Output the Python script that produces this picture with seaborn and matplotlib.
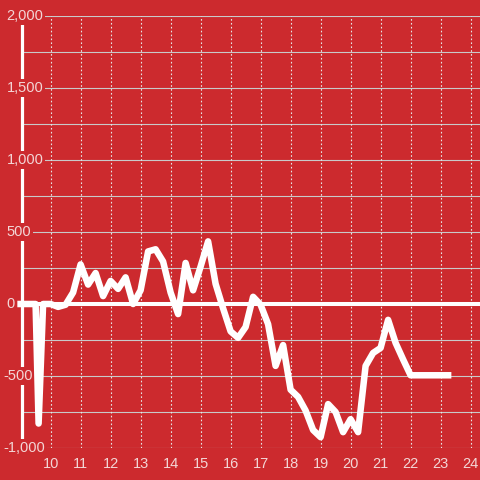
import matplotlib

matplotlib.use("Agg")

import matplotlib.pyplot as plt
import matplotlib.transforms as mtransforms
import pandas as pd
import seaborn as sns

# hours of the day and the value at each reading
hours = [
    9.0, 9.25, 9.5, 9.6, 9.75, 10.0, 10.25, 10.5, 10.75, 11.0, 11.25, 11.5,
    11.75, 12.0, 12.25, 12.5, 12.75, 13.0, 13.25, 13.5, 13.75, 14.0, 14.25,
    14.5, 14.75, 15.0, 15.25, 15.5, 15.75, 16.0, 16.25, 16.5, 16.75, 17.0,
    17.25, 17.5, 17.75, 18.0, 18.25, 18.5, 18.75, 19.0, 19.25, 19.5, 19.75,
    20.0, 20.25, 20.5, 20.75, 21.0, 21.25, 21.5, 21.75, 22.0, 22.25, 22.5,
    22.75, 23.0, 23.25,
]
values = [
    0, 0, 0, -830, 0, 0, -20, -5, 80, 275, 135, 215,
    55, 160, 105, 185, 0, 95, 365, 380, 295, 80, -70,
    285, 95, 260, 435, 140, -30, -190, -235, -160, 50, -5,
    -140, -430, -285, -595, -645, -740, -875, -925, -695, -750, -890,
    -800, -890, -430, -340, -305, -110, -270, -385, -495, -495, -495,
    -495, -495, -495,
]
y_ticks = [2000, 1500, 1000, 500, 0, -500, -1000]
y_tick_labels = ["2,000", "1,500", "1,000", "500", "0", "-500", "-1,000"]
y_grid = [-1000, -750, -500, -250, 0, 250, 500, 750, 1000, 1250, 1500, 1750, 2000]
x_ticks = list(range(10, 25))

RED = "#cc2a2e"
LABEL = "#f3d6d6"

sns.set_style("white")
plt.rcParams["font.family"] = ["Liberation Sans", "DejaVu Sans"]

fig = plt.figure(figsize=(4.8, 4.8), dpi=100, facecolor=RED)
left = 21.5 / 480
ax = fig.add_axes([left, 32 / 480, 1 - left, 432 / 480])
ax.set_facecolor(RED)
ax.set_xlim(10 + (21.5 - 50.6) / 30, 10 + (480 - 50.6) / 30)
ax.set_ylim(-1000, 2000)

for s in ["top", "right", "bottom", "left"]:
    ax.spines[s].set_visible(False)

# grid: solid horizontal every 250, dotted vertical at each hour
for g in y_grid:
    ax.axhline(g, color="#c9c9c9", lw=0.8, zorder=0.5)
for xt in x_ticks:
    ax.axvline(xt, color="#e6e6e6", lw=0.8, ls=(0, (1.5, 2.0)), zorder=0.6)

ax.axvline(ax.get_xlim()[0], color="white", lw=2.3, zorder=1.0, clip_on=False)
ax.axhline(0, color="white", lw=2.9, zorder=1.8)

df = pd.DataFrame({"hour": hours, "value": values})
sns.lineplot(data=df, x="hour", y="value", ax=ax, color="white", lw=4.7,
             zorder=2, sort=False)
ax.lines[-1].set_solid_capstyle("projecting")
ax.lines[-1].set_clip_on(False)

# y labels sit over the spine with a red box, under the data line
trans = mtransforms.blended_transform_factory(ax.transAxes, ax.transData)
for v, t in zip(y_ticks, y_tick_labels):
    px = 3.0 if v < 0 else 6.5
    ax.text((px - 21.5) / (480 - 21.5), v, t, transform=trans, ha="left",
            va="center", fontsize=10.5, color=LABEL, zorder=1.9,
            bbox=dict(facecolor=RED, edgecolor="none", pad=1.5))

ax.set_yticks([])
ax.set_xticks(x_ticks)
ax.set_xticklabels([str(x) for x in x_ticks])
ax.tick_params(axis="x", length=0, pad=6.5, labelsize=10.5, labelcolor=LABEL)
ax.set_xlabel("")
ax.set_ylabel("")

fig.savefig("out.png", dpi=100, facecolor=RED)
